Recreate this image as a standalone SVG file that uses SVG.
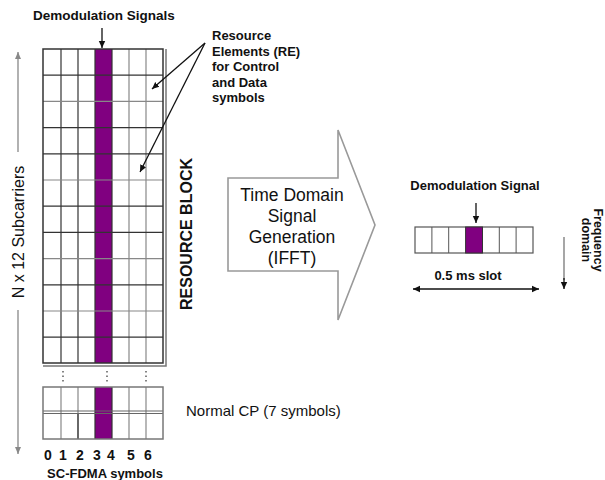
<svg xmlns="http://www.w3.org/2000/svg" width="605" height="480" viewBox="0 0 605 480">
<style>
.b{font-family:"Liberation Sans",Arial,sans-serif;font-weight:bold;fill:#111}
.r{font-family:"Liberation Sans",Arial,sans-serif;fill:#111}
.dk{stroke:#333;stroke-width:1.2}
.lt{stroke:#888;stroke-width:1.2}
.pur{fill:#800080}
.conn{stroke:#111;stroke-width:1.3;fill:none}
.gconn{stroke:#888;stroke-width:1.3;fill:none}
</style>
<defs>
<marker id="ah" markerWidth="8" markerHeight="8" refX="7" refY="4" orient="auto" markerUnits="userSpaceOnUse">
<path d="M0,0.8 L7,4 L0,7.2 Z" fill="#111"/>
</marker>
<marker id="gh" markerWidth="8" markerHeight="8" refX="7" refY="4" orient="auto" markerUnits="userSpaceOnUse">
<path d="M0,1 L7,4 L0,7 Z" fill="#888"/>
</marker>
</defs>
<rect width="605" height="480" fill="#fff"/>

<g id="resource-grid">
<rect x="43" y="49" width="120" height="314" fill="#fff"/>
<rect x="95" y="49" width="17" height="314" class="pur"/>
<g class="dk">
<line x1="61" y1="49" x2="61" y2="363"/>
<line x1="78" y1="49" x2="78" y2="363"/>
<line x1="95" y1="49" x2="95" y2="363"/>
<line x1="112" y1="49" x2="112" y2="363"/>
</g>
<g class="lt">
<line x1="129" y1="49" x2="129" y2="363"/>
<line x1="146" y1="49" x2="146" y2="363"/>
</g>
<g class="dk">
<line x1="43" y1="75.2" x2="163" y2="75.2"/>
<line x1="43" y1="127.6" x2="163" y2="127.6"/>
<line x1="43" y1="153.8" x2="163" y2="153.8"/>
<line x1="43" y1="206.2" x2="163" y2="206.2"/>
<line x1="43" y1="232.4" x2="163" y2="232.4"/>
<line x1="43" y1="284.8" x2="163" y2="284.8"/>
<line x1="43" y1="337.2" x2="163" y2="337.2"/>
</g>
<g class="lt">
<line x1="43" y1="101.4" x2="163" y2="101.4"/>
<line x1="43" y1="180" x2="163" y2="180"/>
<line x1="43" y1="258.6" x2="163" y2="258.6"/>
<line x1="43" y1="311" x2="163" y2="311"/>
</g>
<rect x="43" y="49" width="120" height="314" fill="none" stroke="#333" stroke-width="1.5"/>
<polyline points="166,49 166,366 43,366" fill="none" stroke="#777" stroke-width="1.5"/>
</g>

<g id="dots" stroke="#333" stroke-width="1.2" stroke-dasharray="1.5,3">
<line x1="63" y1="371" x2="63" y2="384"/>
<line x1="107" y1="371" x2="107" y2="384"/>
<line x1="146" y1="371" x2="146" y2="384"/>
</g>

<g id="cp-grid">
<rect x="43" y="387" width="120" height="52" fill="#fff"/>
<rect x="95" y="387" width="17" height="52" class="pur"/>
<g class="lt">
<line x1="61" y1="387" x2="61" y2="439"/>
<line x1="78" y1="387" x2="78" y2="439"/>
<line x1="129" y1="387" x2="129" y2="439"/>
<line x1="146" y1="387" x2="146" y2="439"/>
</g>
<g class="dk">
<line x1="95" y1="387" x2="95" y2="439"/>
<line x1="112" y1="387" x2="112" y2="439"/>
<line x1="78" y1="413" x2="78" y2="439"/>
</g>
<line x1="43" y1="411" x2="163" y2="411" stroke="#666" stroke-width="1.2"/>
<line x1="43" y1="413.5" x2="163" y2="413.5" stroke="#666" stroke-width="1.2"/>
<rect x="43" y="387" width="120" height="52" fill="none" stroke="#777" stroke-width="1.5"/>
</g>

<g id="ifft-arrow">
<polygon points="228,178 338,178 338,130 375,225 338,320 338,271 228,271" fill="#fff" stroke="#999" stroke-width="1.6"/>
<text class="r" font-size="17.5" text-anchor="middle" x="292" y="201">Time Domain</text>
<text class="r" font-size="17.5" text-anchor="middle" x="292" y="222">Signal</text>
<text class="r" font-size="17.5" text-anchor="middle" x="292" y="243">Generation</text>
<text class="r" font-size="17.5" text-anchor="middle" x="292" y="264">(IFFT)</text>
</g>

<g id="slot-grid">
<rect x="415" y="227" width="118" height="26" fill="#fff" stroke="#555" stroke-width="1.2"/>
<rect x="465.6" y="227" width="16.9" height="26" class="pur" stroke="#333" stroke-width="1"/>
<g stroke="#555" stroke-width="1">
<line x1="431.9" y1="227" x2="431.9" y2="253"/>
<line x1="448.7" y1="227" x2="448.7" y2="253"/>
<line x1="499.3" y1="227" x2="499.3" y2="253"/>
<line x1="516.1" y1="227" x2="516.1" y2="253"/>
</g>
</g>

<g id="labels">
<text class="b" font-size="13.5" text-anchor="middle" x="104" y="20">Demodulation Signals</text>
<text class="b" font-size="13"><tspan x="212" y="40">Resource</tspan><tspan x="212" y="56">Elements (RE)</tspan><tspan x="212" y="71">for Control</tspan><tspan x="212" y="87">and Data</tspan><tspan x="212" y="102">symbols</tspan></text>
<text class="b" font-size="16" text-anchor="middle" transform="translate(192,234) rotate(-90)">RESOURCE BLOCK</text>
<text class="r" font-size="16" text-anchor="middle" transform="translate(24,232) rotate(-90)">N x 12 Subcarriers</text>
<text class="r" font-size="15" x="186" y="416">Normal CP (7 symbols)</text>
<g class="b" font-size="14" text-anchor="middle">
<text x="48" y="460">0</text><text x="63" y="460">1</text><text x="80" y="460">2</text><text x="97" y="460">3</text><text x="111" y="460">4</text><text x="131" y="460">5</text><text x="148" y="460">6</text>
</g>
<text class="b" font-size="13" text-anchor="middle" x="105" y="478">SC-FDMA symbols</text>
<text class="b" font-size="13" text-anchor="middle" x="475" y="190">Demodulation Signal</text>
<text class="b" font-size="13" text-anchor="middle" x="468" y="280">0.5 ms slot</text>
<text class="b" font-size="12.5" text-anchor="middle" transform="translate(594,240) rotate(90)"><tspan x="0" y="0">Frequency</tspan><tspan x="0" y="12">domain</tspan></text>
</g>

<g id="connectors">
<line class="conn" x1="102" y1="28" x2="102" y2="48" marker-end="url(#ah)"/>
<line class="conn" x1="205" y1="43" x2="152" y2="89" marker-end="url(#ah)"/>
<line class="conn" x1="205" y1="43" x2="140" y2="172" marker-end="url(#ah)"/>
<line class="gconn" x1="18" y1="152" x2="18" y2="52" marker-end="url(#gh)"/>
<line class="gconn" x1="18" y1="310" x2="18" y2="454" marker-end="url(#gh)"/>
<line class="conn" x1="476" y1="203" x2="476" y2="223" marker-end="url(#ah)"/>
<line class="conn" x1="476" y1="289" x2="413" y2="289" marker-end="url(#ah)"/>
<line class="conn" x1="476" y1="289" x2="539" y2="289" marker-end="url(#ah)"/>
<line x1="564" y1="237" x2="564" y2="280" stroke="#777" stroke-width="1.3"/>
<line class="conn" x1="564" y1="278" x2="564" y2="289" marker-end="url(#ah)"/>
</g>
</svg>
